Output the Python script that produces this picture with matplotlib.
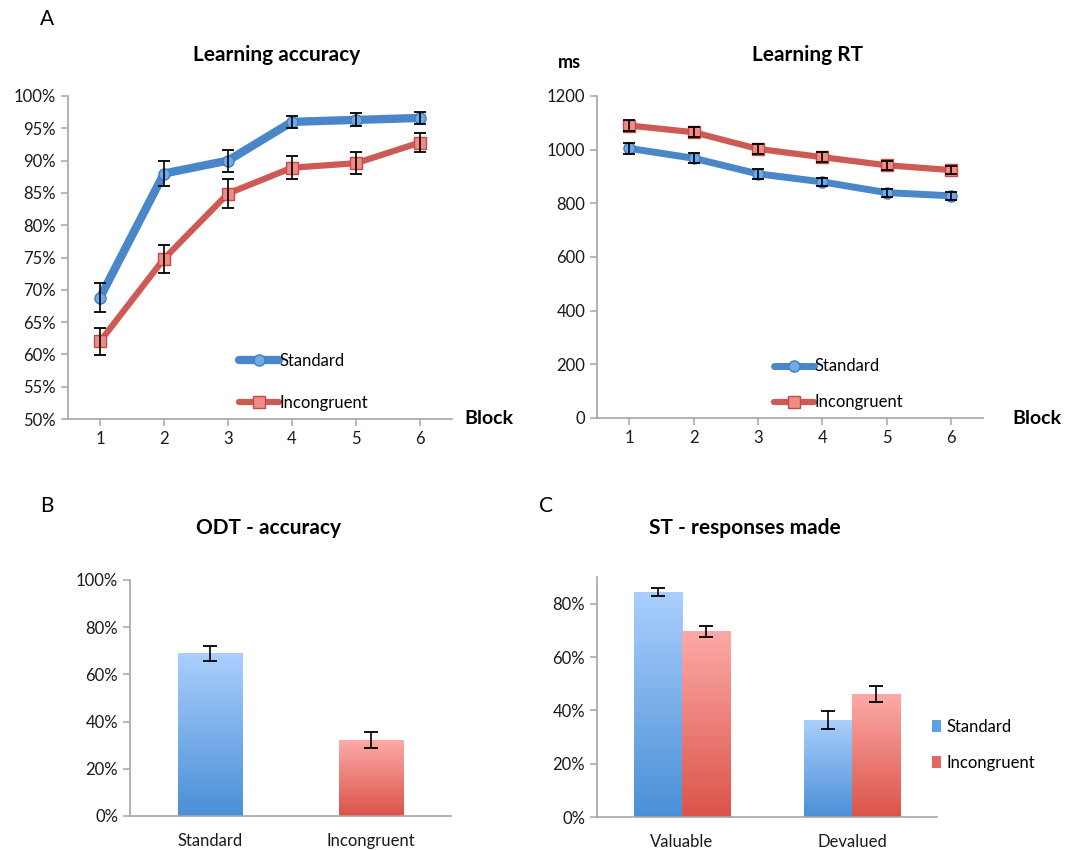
import numpy as np
import matplotlib
matplotlib.use("Agg")
import matplotlib.pyplot as plt
from matplotlib.ticker import PercentFormatter
from matplotlib.colors import LinearSegmentedColormap
from matplotlib.patches import Patch

plt.rcParams['font.family'] = ['Lato', 'DejaVu Sans']

# data
blocks = [1, 2, 3, 4, 5, 6]
acc_std = [68.8, 88.0, 90.0, 96.0, 96.3, 96.6]
acc_std_err = [2.2, 2.0, 1.7, 0.9, 1.0, 1.0]
acc_inc = [62.0, 74.8, 84.9, 88.9, 89.6, 92.8]
acc_inc_err = [2.1, 2.2, 2.2, 1.8, 1.7, 1.4]

rt_std = [1005, 968, 910, 880, 840, 828]
rt_std_err = [20, 18, 18, 16, 15, 14]
rt_inc = [1090, 1065, 1003, 972, 942, 924]
rt_inc_err = [20, 18, 18, 18, 16, 15]

odt_labels = ['Standard', 'Incongruent']
odt_vals = [69.0, 32.2]
odt_err = [3.2, 3.3]

st_labels = ['Valuable', 'Devalued']
st_std = [84.3, 36.3]
st_std_err = [1.4, 3.4]
st_inc = [69.6, 46.0]
st_inc_err = [2.2, 3.0]

BLUE = '#4a87c9'
RED = '#cd5a55'
BLUE_TOP, BLUE_BOT = '#aacffd', '#4a8fd7'
RED_TOP, RED_BOT = '#fcaaa7', '#dc5349'
SPINE = '#a6a6a6'
W, H = 1083, 850

fig = plt.figure(figsize=(W / 100, H / 100), dpi=100)


def ax_at(l, t, r, b):
    return fig.add_axes([l / W, 1 - b / H, (r - l) / W, (b - t) / H])


def style(ax):
    for s in ['top', 'right']:
        ax.spines[s].set_visible(False)
    for s in ['left', 'bottom']:
        ax.spines[s].set_color(SPINE)
        ax.spines[s].set_linewidth(1.2)
    ax.tick_params(colors=SPINE, labelcolor='#1a1a1a', labelsize=12, length=5, width=1.1)


def line_panel(ax, ys, errs, lws):
    ax.plot(blocks, ys[0], color=BLUE, lw=lws[0], marker='o', ms=8,
            mfc='#72aae6', mec='#3f7cc2', mew=1, zorder=3, label='Standard', solid_capstyle='round')
    ax.plot(blocks, ys[1], color=RED, lw=lws[1], marker='s', ms=8,
            mfc='#ef8c87', mec='#c44a46', mew=1, zorder=3, label='Incongruent', solid_capstyle='round')
    for y, e in zip(ys, errs):
        ax.errorbar(blocks, y, yerr=e, fmt='none', ecolor='black', elinewidth=1.2,
                    capsize=4.5, capthick=1.3, zorder=4)
    ax.set_xlim(0.5, 6.5)
    ax.set_xticks(blocks)


# A - learning accuracy
ax1 = ax_at(68, 96, 452, 419)
style(ax1)
line_panel(ax1, [acc_std, acc_inc], [acc_std_err, acc_inc_err], [6, 4.5])
ax1.set_ylim(50, 100)
ax1.set_yticks(np.arange(50, 101, 5))
ax1.yaxis.set_major_formatter(PercentFormatter(decimals=0))
ax1.legend(loc='upper left', bbox_to_anchor=(0.445, 0.205), frameon=False, fontsize=12,
           handlelength=2.4, handletextpad=0.05, labelspacing=1.55, borderpad=0, borderaxespad=0)

# A - learning RT
ax2 = ax_at(597, 96, 983, 418)
style(ax2)
line_panel(ax2, [rt_std, rt_inc], [rt_std_err, rt_inc_err], [5, 4.5])
ax2.set_ylim(0, 1200)
ax2.set_yticks(np.arange(0, 1201, 200))
ax2.legend(loc='upper left', bbox_to_anchor=(0.458, 0.185), frameon=False, fontsize=12,
           handlelength=2.4, handletextpad=0.05, labelspacing=1.2, borderpad=0, borderaxespad=0)


def grad_bar(ax, x, h, w, top, bot):
    cmap = LinearSegmentedColormap.from_list('g', [bot, top])
    grad = np.linspace(0, 1, 256).reshape(-1, 1)
    ax.imshow(grad, extent=[x - w / 2, x + w / 2, 0, h], origin='lower',
              cmap=cmap, aspect='auto', zorder=2, interpolation='bilinear')


# B - ODT accuracy
ax3 = ax_at(130, 580, 451, 816)
style(ax3)
odt_cols = [(BLUE_TOP, BLUE_BOT), (RED_TOP, RED_BOT)]
for i, (v, c) in enumerate(zip(odt_vals, odt_cols)):
    grad_bar(ax3, i, v, 0.4, c[0], c[1])
ax3.errorbar(range(len(odt_vals)), odt_vals, yerr=odt_err, fmt='none', ecolor='black',
             elinewidth=1.2, capsize=5, capthick=1.3, zorder=4)
ax3.set_xlim(-0.5, 1.5)
ax3.set_ylim(0, 100)
ax3.set_yticks(np.arange(0, 101, 20))
ax3.yaxis.set_major_formatter(PercentFormatter(decimals=0))
ax3.set_xticks(range(len(odt_labels)))
ax3.set_xticklabels(odt_labels)
ax3.tick_params(axis='x', length=0, pad=12)

# C - ST responses made
ax4 = ax_at(597, 577, 937, 817)
style(ax4)
bw = 0.285
xs = np.arange(len(st_labels))
for i in xs:
    grad_bar(ax4, i - bw / 2, st_std[i], bw, BLUE_TOP, BLUE_BOT)
    grad_bar(ax4, i + bw / 2, st_inc[i], bw, RED_TOP, RED_BOT)
ax4.errorbar(xs - bw / 2, st_std, yerr=st_std_err, fmt='none', ecolor='black',
             elinewidth=1.2, capsize=5, capthick=1.3, zorder=4)
ax4.errorbar(xs + bw / 2, st_inc, yerr=st_inc_err, fmt='none', ecolor='black',
             elinewidth=1.2, capsize=5, capthick=1.3, zorder=4)
ax4.set_xlim(-0.5, 1.5)
ax4.set_ylim(0, 90)
ax4.set_yticks(np.arange(0, 81, 20))
ax4.yaxis.set_major_formatter(PercentFormatter(decimals=0))
ax4.set_xticks(xs)
ax4.set_xticklabels(st_labels)
ax4.tick_params(axis='x', length=0, pad=12)
handles = [Patch(facecolor='#5f9fe3', edgecolor='none', label='Standard'),
           Patch(facecolor='#e5675f', edgecolor='none', label='Incongruent')]
ax4.legend(handles=handles, loc='upper left', bbox_to_anchor=(0.985, 0.41), frameon=False,
           fontsize=12, handlelength=0.55, handleheight=0.75, handletextpad=0.3,
           labelspacing=1.2, borderpad=0, borderaxespad=0)

# titles and labels
fig.text(277 / W, 1 - 55 / H, 'Learning accuracy', ha='center', va='center', fontsize=15, fontweight='bold')
fig.text(807 / W, 1 - 55 / H, 'Learning RT', ha='center', va='center', fontsize=15, fontweight='bold')
fig.text(269 / W, 1 - 528 / H, 'ODT - accuracy', ha='center', va='center', fontsize=15, fontweight='bold')
fig.text(745 / W, 1 - 528 / H, 'ST - responses made', ha='center', va='center', fontsize=15, fontweight='bold')
fig.text(569 / W, 1 - 63 / H, 'ms', ha='center', va='center', fontsize=13, fontweight='bold')
fig.text(489 / W, 1 - 419 / H, 'Block', ha='center', va='center', fontsize=14, fontweight='bold')
fig.text(1037 / W, 1 - 419 / H, 'Block', ha='center', va='center', fontsize=14, fontweight='bold')
fig.text(47 / W, 1 - 19 / H, 'A', ha='center', va='center', fontsize=15)
fig.text(47 / W, 1 - 506 / H, 'B', ha='center', va='center', fontsize=15)
fig.text(546 / W, 1 - 506 / H, 'C', ha='center', va='center', fontsize=15)

fig.savefig('out.png', dpi=100, facecolor='white')
